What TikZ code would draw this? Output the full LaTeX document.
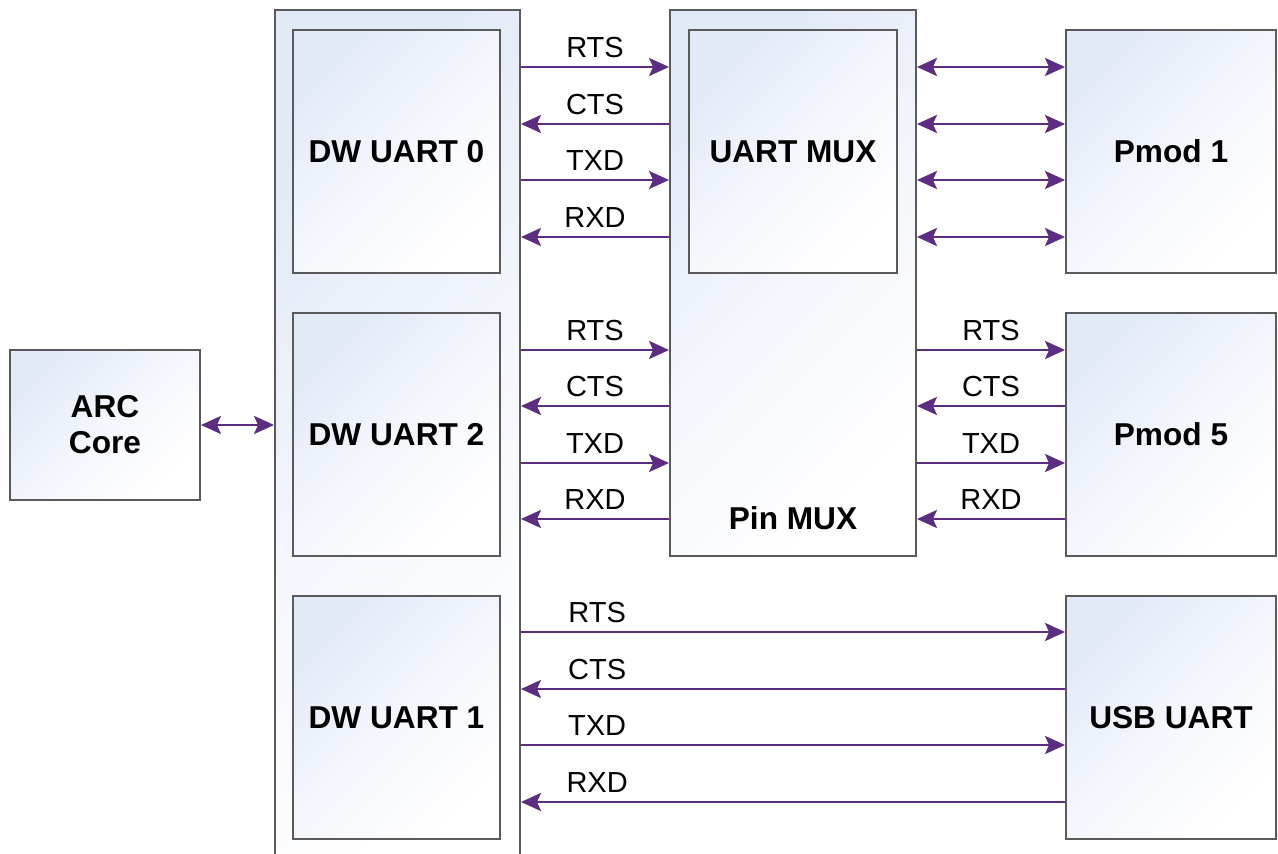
\documentclass[tikz,border=0pt]{standalone}
\usepackage{fontspec}
\setmainfont{Liberation Sans}
\usetikzlibrary{arrows.meta,positioning}
\definecolor{sigpurple}{RGB}{93,45,130}
\definecolor{boxblue}{RGB}{226,233,247}
\definecolor{boxedge}{RGB}{90,90,90}

\begin{document}
\begin{tikzpicture}[x=0.02cm, y=-0.02cm,
  >={Stealth[length=4mm,width=3.6mm,inset=0.8mm]},
  blk/.style={rectangle,draw=boxedge,line width=1.1pt,top color=boxblue,bottom color=white,
    middle color=white!60!boxblue,shading angle=45,inner sep=0pt,align=center,
    font=\bfseries\fontsize{18}{20.5}\selectfont},
  uartbox/.style={blk,minimum width=4.14cm,minimum height=4.86cm},
  sig/.style={draw=sigpurple,line width=1.5pt},
  lbl/.style={anchor=base,yshift=1.9mm,inner sep=0pt,font=\fontsize{16.5}{19}\selectfont}]
  \clip (0,0) rectangle (1278,854);
  % blocks
  \node[blk,minimum width=3.8cm,minimum height=3cm] (arc) at (105,425) {ARC\\Core};
  \node[blk,minimum width=4.9cm,minimum height=17.4cm] (soc) at (397.5,445) {};
  \node[uartbox] (uart0) at (396.5,151.5) {DW UART 0};
  \node[uartbox] (uart2) at (396.5,434.5) {DW UART 2};
  \node[uartbox] (uart1) at (396.5,717.5) {DW UART 1};
  \node[blk,minimum width=4.92cm,minimum height=10.92cm] (pinmux) at (793,283) {};
  \node[font=\bfseries\fontsize{18}{20.5}\selectfont] (pinlbl) at (793,518) {Pin MUX};
  \node[uartbox,minimum width=4.16cm] (uartmux) at (793,151.5) {UART MUX};
  \node[uartbox,minimum width=4.2cm] (pmod1) at (1171,151.5) {Pmod 1};
  \node[uartbox,minimum width=4.2cm] (pmod5) at (1171,434.5) {Pmod 5};
  \node[uartbox,minimum width=4.2cm] (usb) at (1171,717.5) {USB UART};

  \draw[sig,<->] (arc.east) -- (soc.west |- arc.east);

  % DW UART 0 <-> UART MUX <-> Pmod 1
  \foreach \y/\sname/\src/\dst in {67/RTS/soc.east/pinmux.west,124/CTS/pinmux.west/soc.east,
      180/TXD/soc.east/pinmux.west,237/RXD/pinmux.west/soc.east}{
    \draw[sig,->] (\src |- 0,\y) -- node[lbl] {\sname} (\dst |- 0,\y);
    \draw[sig,<->] (pinmux.east |- 0,\y) -- (pmod1.west |- 0,\y);
  }
  % DW UART 2 <-> Pin MUX <-> Pmod 5
  \foreach \y/\sname/\src/\dst/\psrc/\pdst in
      {350/RTS/soc.east/pinmux.west/pinmux.east/pmod5.west,
       406/CTS/pinmux.west/soc.east/pmod5.west/pinmux.east,
       463/TXD/soc.east/pinmux.west/pinmux.east/pmod5.west,
       519/RXD/pinmux.west/soc.east/pmod5.west/pinmux.east}{
    \draw[sig,->] (\src |- 0,\y) -- node[lbl] {\sname} (\dst |- 0,\y);
    \draw[sig,->] (\psrc |- 0,\y) -- node[lbl] {\sname} (\pdst |- 0,\y);
  }
  % DW UART 1 <-> USB UART
  \foreach \y/\sname/\src/\dst/\p in {632/RTS/soc.east/usb.west/0.14,689/CTS/usb.west/soc.east/0.86,
      745/TXD/soc.east/usb.west/0.14,802/RXD/usb.west/soc.east/0.86}{
    \draw[sig,->] (\src |- 0,\y) -- (\dst |- 0,\y) node[lbl,pos=\p] {\sname};
  }
\end{tikzpicture}
\end{document}
